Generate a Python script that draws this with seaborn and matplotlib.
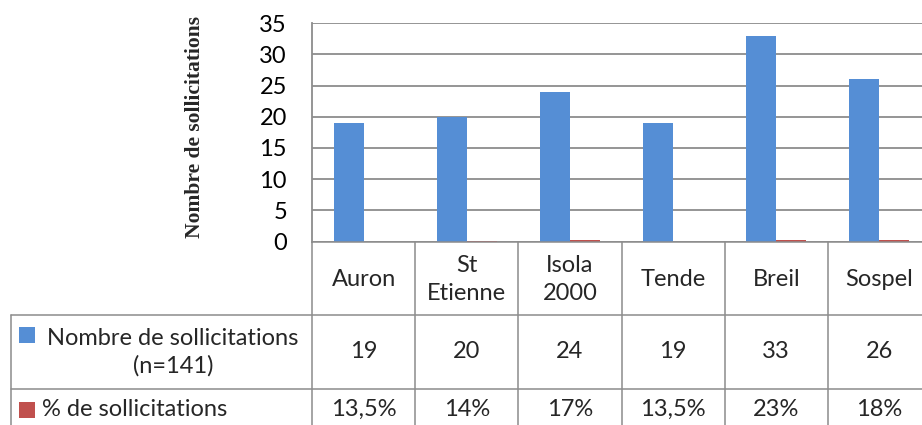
import matplotlib
matplotlib.use("Agg")
import matplotlib.pyplot as plt
import seaborn as sns
import pandas as pd

categories = ["Auron", "St\nEtienne", "Isola\n2000", "Tende", "Breil", "Sospel"]
nombre = [19, 20, 24, 19, 33, 26]
pourcent_labels = ["13,5%", "14%", "17%", "13,5%", "23%", "18%"]
pourcent_values = [0.0, 0.14, 0.17, 0.0, 0.23, 0.18]
series_names = ["Nombre de sollicitations\n(n=141)", "% de sollicitations"]
yticks = [0, 5, 10, 15, 20, 25, 30, 35]

BLUE = "#558ED5"
RED = "#C0504D"
GRID = "#8C8C8C"

sns.set_theme(style="white")
plt.rcParams["font.family"] = ["Lato", "DejaVu Sans"]

df = pd.DataFrame({
    "cat": list(range(len(categories))) * 2,
    "val": nombre + pourcent_values,
    "serie": ["n"] * len(categories) + ["p"] * len(categories),
})

W, H = 922, 425
fig = plt.figure(figsize=(W / 100, H / 100), dpi=100)
x0, x1 = 312, 931
y0, y35 = 241.5, 23.3
ax = fig.add_axes([x0 / W, (H - y0) / H, (x1 - x0) / W, (y0 - y35) / H])
sns.barplot(data=df, x="cat", y="val", hue="serie", hue_order=["n", "p"],
            palette=[BLUE, RED], width=0.58, ax=ax, legend=False,
            saturation=1, edgecolor="none", zorder=3)
ax.set_xlim(-0.5, len(categories) - 0.5)
ax.set_ylim(0, 35)
ax.set_yticks(yticks)
ax.set_yticklabels([str(t) for t in yticks], fontsize=17, color="black")
ax.tick_params(axis="y", length=0, pad=18)
ax.set_xticks([])
ax.set_xlabel("")
ax.set_ylabel("")
for t in yticks:
    ax.axhline(t, color=GRID, lw=1.3, zorder=1)
for s in ["top", "right", "bottom"]:
    ax.spines[s].set_visible(False)
ax.spines["left"].set_color(GRID)
ax.spines["left"].set_linewidth(1.3)

fig.text(195 / W, (H - 127) / H, "Nombre de sollicitations", rotation=90,
         ha="center", va="center", fontsize=15.5, fontweight="bold",
         family=["Liberation Serif"])

# data table overlay
ov = fig.add_axes([0, 0, 1, 1], zorder=5)
ov.set_xlim(0, W)
ov.set_ylim(H, 0)
ov.axis("off")
colw = (x1 - x0) / len(categories)
r0, r1, r2, r3 = 241.5, 315, 389, 440
lw = 1.1
ov.plot([x0, x1], [r0, r0], color=GRID, lw=lw)
for y in (r1, r2):
    ov.plot([11, x1], [y, y], color=GRID, lw=lw)
ov.plot([11, 11], [r1, r3], color=GRID, lw=lw)
for i in range(len(categories) + 1):
    xx = x0 + i * colw
    ov.plot([xx, xx], [r0, r3], color=GRID, lw=lw)

fs = 17
for i, c in enumerate(categories):
    cx = x0 + (i + 0.5) * colw
    ov.text(cx, (r0 + r1) / 2 + 1, c, ha="center", va="center", fontsize=fs,
            linespacing=1.4)
    ov.text(cx, (r1 + r2) / 2, str(nombre[i]), ha="center", va="center", fontsize=fs)
    ov.text(cx, 409, pourcent_labels[i], ha="center", va="center", fontsize=fs)

ov.add_patch(plt.Rectangle((19, 327), 16, 16, color=BLUE, lw=0))
ov.add_patch(plt.Rectangle((19, 402), 16, 16, color=RED, lw=0))
ov.text(173, (r1 + r2) / 2, series_names[0], ha="center", va="center",
        fontsize=fs, linespacing=1.35)
ov.text(42, 409, series_names[1], ha="left", va="center", fontsize=fs)

fig.savefig("out.png", dpi=100)
